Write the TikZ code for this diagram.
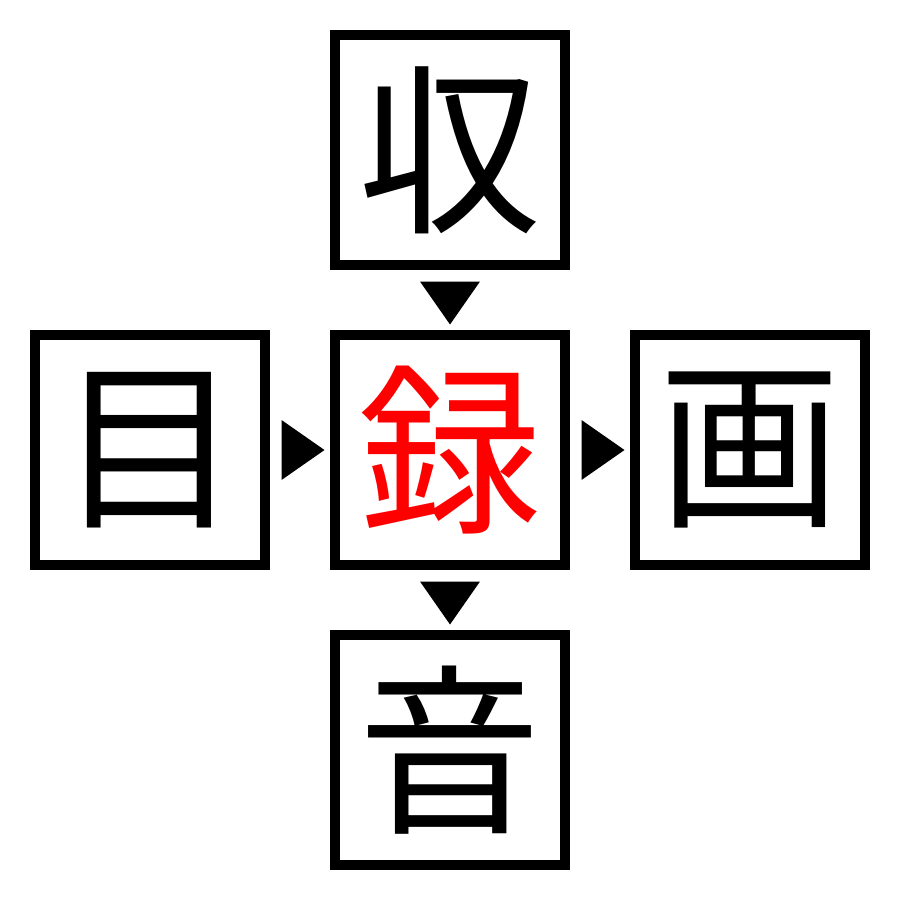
\documentclass[tikz,border=0pt]{standalone}
\usepackage{fontspec}
\newfontfamily\cjk{Noto Sans CJK JP}
\usetikzlibrary{calc}
\begin{document}
\begin{tikzpicture}[x=0.1mm,y=-0.1mm,
  kbox/.style={draw=black,line width=1mm,minimum size=23mm,inner sep=0pt,
    font=\cjk\fontsize{52}{52}\selectfont},
  tri/.style={fill=black,draw=none}]
\useasboundingbox (0,0) rectangle (900,900);
\node[kbox] (top) at (450,150) {収};
\node[kbox] (left) at (150,450) {目};
\node[kbox,text=red] (mid) at (450,450) {録};
\node[kbox] (right) at (750,450) {画};
\node[kbox] (bot) at (450,750) {音};
% down arrowheads
\path let \p1=($(top.south)!0.5!(mid.north)$) in
  coordinate (a1) at (\p1);
\fill[tri] ($(a1)+(-30,-18.5)$) -- ($(a1)+(30,-18.5)$) -- ($(a1)+(0,24.5)$) -- cycle;
\coordinate (a2) at ($(mid.south)!0.5!(bot.north)$);
\fill[tri] ($(a2)+(-30,-18.5)$) -- ($(a2)+(30,-18.5)$) -- ($(a2)+(0,24.5)$) -- cycle;
% right arrowheads
\coordinate (a3) at ($(left.east)!0.5!(mid.west)$);
\fill[tri] ($(a3)+(-18.5,-30)$) -- ($(a3)+(-18.5,30)$) -- ($(a3)+(24.5,0)$) -- cycle;
\coordinate (a4) at ($(mid.east)!0.5!(right.west)$);
\fill[tri] ($(a4)+(-18.5,-30)$) -- ($(a4)+(-18.5,30)$) -- ($(a4)+(24.5,0)$) -- cycle;
\end{tikzpicture}
\end{document}
